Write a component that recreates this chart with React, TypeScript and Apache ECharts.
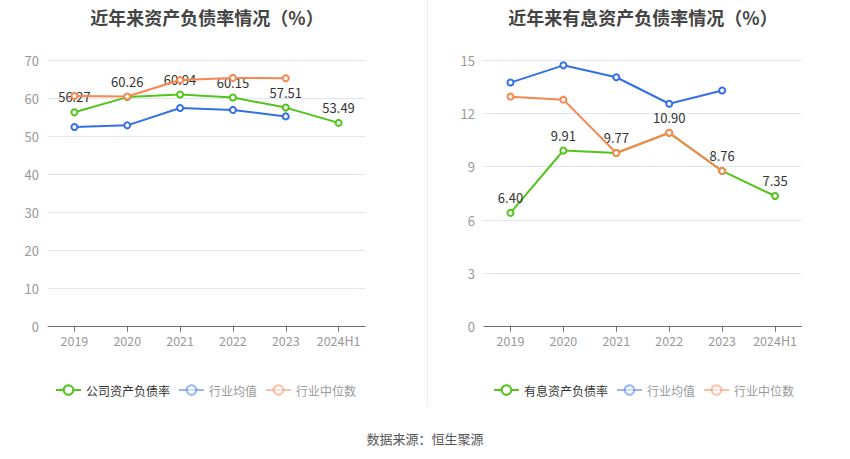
import React, { useEffect, useRef } from "react";
import * as echarts from "echarts";

const categories = ["2019", "2020", "2021", "2022", "2023", "2024H1"];

const leftCompany = [56.27, 60.26, 60.94, 60.15, 57.51, 53.49];
const leftIndustryAvg = [52.4, 52.85, 57.4, 56.9, 55.2, null];
const leftIndustryMedian = [60.55, 60.4, 64.75, 65.3, 65.2, null];

const rightCompany = [6.4, 9.91, 9.77, 10.9, 8.76, 7.35];
const rightIndustryAvg = [13.73, 14.7, 14.03, 12.54, 13.28, null];
const rightIndustryMedian = [12.94, 12.77, 9.77, 10.91, 8.76, null];

const leftTitle = "近年来资产负债率情况（%）";
const rightTitle = "近年来有息资产负债率情况（%）";
const leftNames = ["公司资产负债率", "行业均值", "行业中位数"];
const rightNames = ["有息资产负债率", "行业均值", "行业中位数"];
const sourceText = "数据来源：恒生聚源";

const GREEN = "#52c41a";
const BLUE = "#3370e8";
const ORANGE = "#f7864f";
const FONT = "'Noto Sans CJK SC', 'Noto Sans', sans-serif";

export default function App() {
  const ref = useRef<HTMLDivElement>(null);

  useEffect(() => {
    document.body.style.margin = "0";
    if (!ref.current) return;
    const chart = echarts.init(ref.current, null, { renderer: "svg" });

    const gridTop = 60;
    const gridHeight = 266.7;

    const mkXAxis = (gi: number) => ({
      type: "category",
      gridIndex: gi,
      data: categories,
      boundaryGap: true,
      axisLine: { lineStyle: { color: "#6e7079" } },
      axisTick: { show: true, alignWithLabel: true, lineStyle: { color: "#6e7079" } },
      axisLabel: { color: "#999", fontSize: 12.5, margin: 8, interval: 0, fontFamily: FONT },
    });
    const mkYAxis = (gi: number, max: number, interval: number) => ({
      type: "value",
      gridIndex: gi,
      min: 0,
      max,
      interval,
      axisLine: { show: false },
      axisTick: { show: false },
      axisLabel: { color: "#999", fontSize: 13, margin: 9, fontFamily: FONT },
      splitLine: { lineStyle: { color: "#e0e6f1" } },
    });

    const mkSeries = (
      name: string,
      data: (number | null)[],
      color: string,
      gi: number,
      showLabel: boolean,
      z: number
    ) => ({
      type: "line",
      name,
      data,
      xAxisIndex: gi,
      yAxisIndex: gi,
      symbol: "emptyCircle",
      symbolSize: 6,
      z,
      itemStyle: { color },
      lineStyle: { color, width: 2 },
      label: showLabel
        ? {
            show: true,
            position: "top",
            color: "#333",
            fontSize: 13,
            fontFamily: FONT,
            formatter: (p: any) => Number(p.value).toFixed(2),
          }
        : { show: false },
    });

    const legendData = (names: string[]) => [
      { name: names[0], textStyle: { color: "#333" } },
      {
        name: names[1],
        itemStyle: { opacity: 0.5 },
        lineStyle: { opacity: 0.5 },
        textStyle: { color: "#999" },
      },
      {
        name: names[2],
        itemStyle: { opacity: 0.5 },
        lineStyle: { opacity: 0.5 },
        textStyle: { color: "#999" },
      },
    ];

    chart.setOption({
      animation: false,
      textStyle: { fontFamily: FONT },
      title: [
        {
          text: leftTitle,
          left: 202,
          top: 3,
          textAlign: "center",
          textStyle: { fontSize: 18, fontWeight: "bold", color: "#444", fontFamily: FONT },
        },
        {
          text: rightTitle,
          left: 638,
          top: 3,
          textAlign: "center",
          textStyle: { fontSize: 18, fontWeight: "bold", color: "#444", fontFamily: FONT },
        },
      ],
      legend: [
        {
          data: legendData(leftNames),
          left: 50,
          top: 379,
          itemWidth: 25,
          itemHeight: 12,
          itemGap: 8,
          textStyle: { fontSize: 12, fontFamily: FONT },
        },
        {
          data: legendData(rightNames),
          left: 488,
          top: 379,
          itemWidth: 25,
          itemHeight: 12,
          itemGap: 8,
          textStyle: { fontSize: 12, fontFamily: FONT },
        },
      ],
      grid: [
        { left: 48, width: 317, top: gridTop, height: gridHeight },
        { left: 484, width: 317.5, top: gridTop, height: gridHeight },
      ],
      xAxis: [mkXAxis(0), mkXAxis(1)],
      yAxis: [mkYAxis(0, 70, 10), mkYAxis(1, 15, 3)],
      series: [
        mkSeries(leftNames[0], leftCompany, GREEN, 0, true, 2),
        mkSeries(leftNames[1], leftIndustryAvg, BLUE, 0, false, 3),
        mkSeries(leftNames[2], leftIndustryMedian, ORANGE, 0, false, 4),
        mkSeries(rightNames[0], rightCompany, GREEN, 1, true, 2),
        mkSeries(rightNames[1], rightIndustryAvg, BLUE, 1, false, 3),
        mkSeries(rightNames[2], rightIndustryMedian, ORANGE, 1, false, 4),
      ],
      graphic: [
        {
          type: "line",
          shape: { x1: 427.5, y1: 0, x2: 427.5, y2: 407 },
          style: { stroke: "#eeeeee", lineWidth: 1 },
        },
        {
          type: "text",
          x: 425,
          y: 438,
          style: {
            text: sourceText,
            fill: "#555",
            fontSize: 13,
            fontFamily: FONT,
            textAlign: "center",
            textVerticalAlign: "middle",
          },
        },
      ],
    });

    return () => chart.dispose();
  }, []);

  return <div ref={ref} style={{ width: 850, height: 459 }} />;
}
